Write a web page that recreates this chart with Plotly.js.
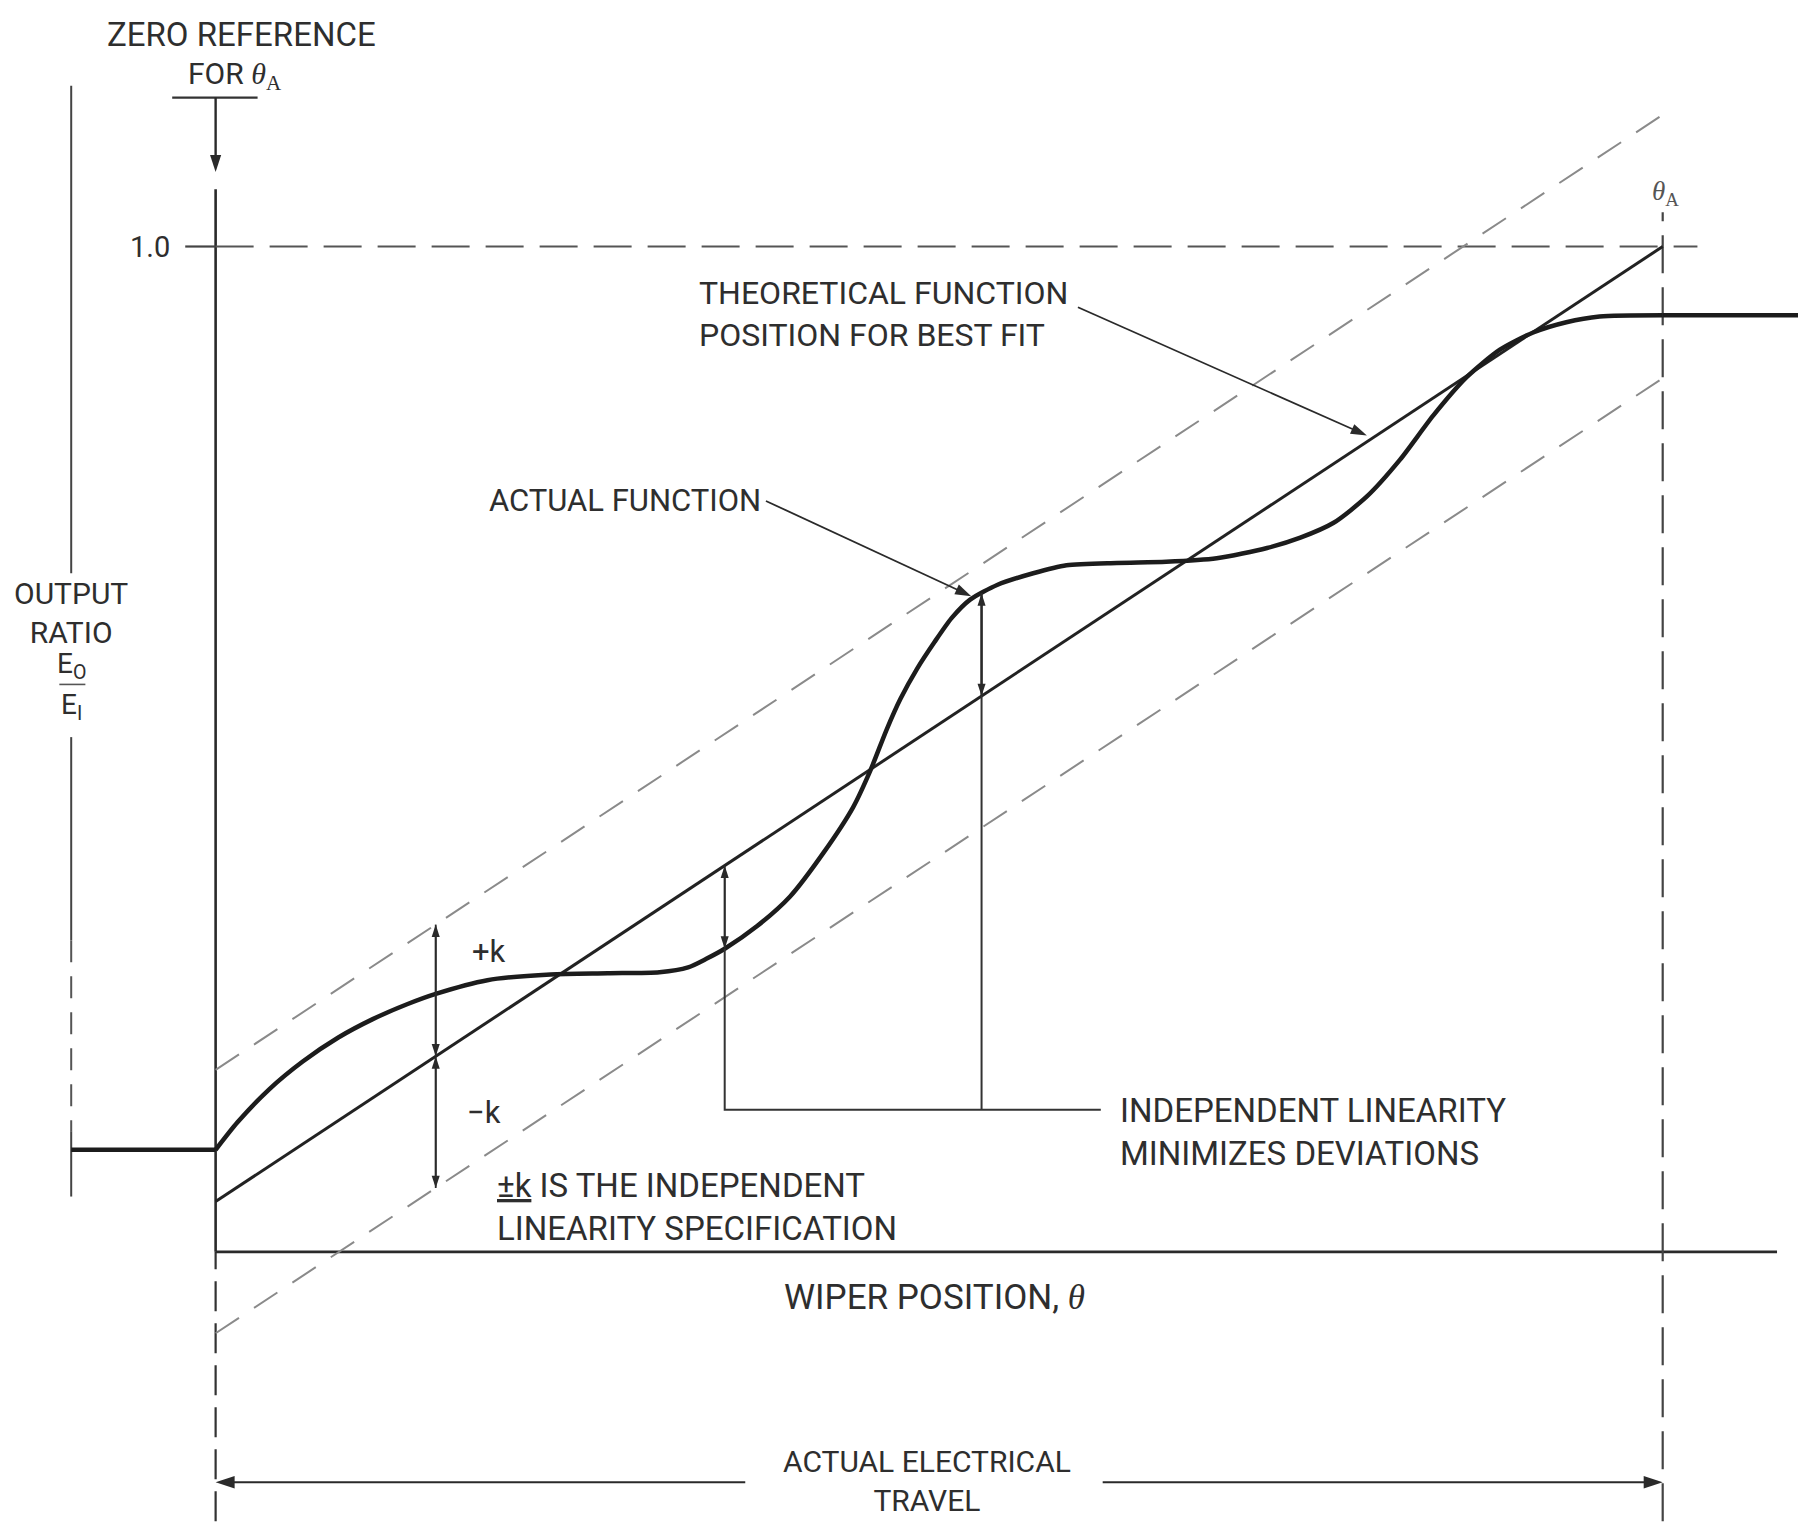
<!DOCTYPE html>
<html>
<head>
<meta charset="utf-8">
<script src="https://cdn.plot.ly/plotly-3.0.1.min.js"></script>
<style>html,body{margin:0;padding:0;background:#fff}</style>
</head>
<body>
<div id="chart" style="width:1798px;height:1527px"></div>
<script>
// ---- data (x: wiper position, 0 = zero reference, 1 = θA ; y: output ratio Eo/Ei) ----
const travelX = [0, 1];                 // zero reference and θA
const theoreticalY = [0.05, 1.0];       // best-fit theoretical function at travel ends
const kSpec = 0.131;                    // ± independent linearity band
const actualX = [-0.0998, 0, 0.0151, 0.0372, 0.0602, 0.0848, 0.1086, 0.1323, 0.1521, 0.1878, 0.2314, 0.2710, 0.3067, 0.3265, 0.3391, 0.3518, 0.3740, 0.3970, 0.4200, 0.4406, 0.4525, 0.4635, 0.4731, 0.4849, 0.4968, 0.5087, 0.5214, 0.5404, 0.5650, 0.5880, 0.6228, 0.6569, 0.6918, 0.7266, 0.7496, 0.7726, 0.7956, 0.8185, 0.8415, 0.8645, 0.8875, 0.9105, 0.9334, 0.9564, 1.0, 1.0935];
const actualY = [0.1015, 0.1015, 0.1288, 0.1619, 0.1893, 0.2132, 0.2315, 0.2463, 0.2566, 0.2702, 0.2759, 0.2771, 0.2782, 0.2830, 0.2915, 0.3015, 0.3238, 0.3535, 0.3968, 0.4424, 0.4789, 0.5188, 0.5496, 0.5804, 0.6066, 0.6306, 0.6488, 0.6636, 0.6750, 0.6830, 0.6853, 0.6864, 0.6899, 0.7001, 0.7104, 0.7252, 0.7514, 0.7880, 0.8320, 0.8700, 0.8974, 0.9145, 0.9247, 0.9304, 0.9316, 0.9316];
const fullScaleY = 1.0;                 // "1.0" reference level
const kMarkX = 0.1521;                  // where ±k is dimensioned
const deviationX = [0.3518, 0.5293];    // deviations shown by the bracket
const deviationActualY = [0.3015, 0.655];
const bracketY = 0.1414;
const bracketEndX = 0.6117;
const outputGuideX = -0.0998;

// ---- derived ----
const theo = x => theoreticalY[0] + (theoreticalY[1] - theoreticalY[0]) * x;
const upperY = theoreticalY.map(v => v + kSpec);
const lowerY = theoreticalY.map(v => v - kSpec);

const FONT = "Roboto, 'Noto Sans', sans-serif";
const SERIF = "'Liberation Serif', 'DejaVu Serif', serif";
const TXT = '#2e2e2e';

function seg(x, y, color, width, dash, shape) {
  return {type: 'scatter', mode: 'lines', x: x, y: y, hoverinfo: 'skip',
          line: {color: color, width: width, dash: dash || 'solid', shape: shape || 'linear', smoothing: 0.7}};
}
// a line that ends in an arrowhead at (x1, y1)
function arrowSeg(x0, y0, x1, y1, width, size) {
  return {type: 'scatter', mode: 'lines+markers', x: [x0, x1], y: [y0, y1], hoverinfo: 'skip',
          line: {color: '#2a2a2a', width: width || 1.8},
          marker: {symbol: 'arrow', size: size || 14, color: '#2a2a2a', angleref: 'previous', line: {width: 0}}};
}

const traces = [];
// axes / guides
traces.push(seg([travelX[0], travelX[0]], [0, 1.057], '#2a2a2a', 2.6));
traces.push(seg([travelX[0], travelX[0]], [-0.268, 0], '#333', 2.2, '30px,12px'));
traces.push(seg([travelX[0], 1.079], [0, 0], '#2a2a2a', 2.8));
traces.push(seg([travelX[1], travelX[1]], [-0.268, 1.034], '#444', 2.2, '38px,14px'));
traces.push(seg([-0.021, travelX[0]], [fullScaleY, fullScaleY], '#444', 2.2));
traces.push(seg([travelX[0], 1.024], [fullScaleY, fullScaleY], '#555', 2.2, '38px,16px'));
// left output-ratio guide
traces.push(seg([outputGuideX, outputGuideX], [1.16, 0.675], '#444', 2));
traces.push(seg([outputGuideX, outputGuideX], [0.512, 0.31], '#444', 2));
traces.push(seg([outputGuideX, outputGuideX], [0.31, 0.12], '#555', 2, '22px,14px'));
traces.push(seg([outputGuideX, outputGuideX], [0.12, 0.055], '#444', 2));
traces.push(seg([-0.108, -0.090], [0.5644, 0.5644], '#555', 1.6));
// zero reference bar
traces.push(seg([-0.030, 0.029], [1.148, 1.148], '#333', 2.2));
// ±k band
traces.push(seg(travelX, upperY, '#8a8a8a', 2, '28px,18px'));
traces.push(seg(travelX, lowerY, '#8a8a8a', 2, '28px,18px'));
// theoretical function
traces.push(seg(travelX, theoreticalY, '#222', 3));
// actual function
traces.push(seg(actualX.slice(0, 2), actualY.slice(0, 2), '#1c1c1c', 4.5));
traces.push(seg(actualX.slice(1, 45), actualY.slice(1, 45), '#1c1c1c', 4.5, 'solid', 'spline'));
traces.push(seg(actualX.slice(44), actualY.slice(44), '#1c1c1c', 4.5));
// deviation bracket
traces.push(seg([deviationX[0], deviationX[0], bracketEndX], [deviationActualY[0], bracketY, bracketY], '#333', 2));
traces.push(seg([deviationX[1], deviationX[1]], [bracketY, deviationActualY[1]], '#333', 2));

// arrows
const tk = theo(kMarkX);
traces.push(arrowSeg(travelX[0], 1.148, travelX[0], 1.074, 2.4, 18));           // zero reference
traces.push(arrowSeg(0.3803, 0.7469, 0.5222, 0.6522, 1.8, 17));                  // actual function leader
traces.push(arrowSeg(0.5959, 0.9396, 0.7956, 0.812, 1.8, 17));                   // theoretical leader
traces.push(arrowSeg(kMarkX, tk, kMarkX, tk + kSpec, 1.8, 13));                  // +k
traces.push(arrowSeg(kMarkX, tk + kSpec, kMarkX, tk, 1.8, 13));
traces.push(arrowSeg(kMarkX, tk, kMarkX, tk - kSpec, 1.8, 13));                  // -k
traces.push(arrowSeg(kMarkX, tk - kSpec, kMarkX, tk, 1.8, 13));
const t0 = theo(deviationX[0]), t1 = theo(deviationX[1]);
traces.push(arrowSeg(deviationX[0], deviationActualY[0], deviationX[0], t0, 1.8, 13));
traces.push(arrowSeg(deviationX[0], t0, deviationX[0], deviationActualY[0], 1.8, 13));
traces.push(arrowSeg(deviationX[1], t1, deviationX[1], deviationActualY[1], 1.8, 13));
traces.push(arrowSeg(deviationX[1], deviationActualY[1], deviationX[1], t1, 1.8, 13));
traces.push(arrowSeg(0.366, -0.2292, travelX[0], -0.2292, 2.2, 20));             // actual electrical travel
traces.push(arrowSeg(0.613, -0.2292, travelX[1], -0.2292, 2.2, 20));

// ---- text ----
const ann = [];
function label(text, x, y, anchor, size, family, color) {
  ann.push({text: text, x: x, y: y, xref: 'x', yref: 'y', showarrow: false,
    xanchor: anchor, yanchor: 'middle', align: anchor === 'center' ? 'center' : 'left',
    font: {family: family || FONT, size: size, color: color || TXT}});
}
const thA = "<span style=\"font-family:'Liberation Serif',serif\"><i>θ</i><sub>A</sub></span>";
label('ZERO REFERENCE', 0.0182, 1.2105, 'center', 33);
label('FOR ' + thA, 0.0135, 1.170, 'center', 30);
label('1.0', -0.0301, fullScaleY, 'right', 29);
label('<i>θ</i><sub>A</sub>', 1.0016, 1.0536, 'center', 27, SERIF, '#555');
label('THEORETICAL FUNCTION<br>POSITION FOR BEST FIT', 0.3328, 0.9328, 'left', 32);
label('ACTUAL FUNCTION', 0.1878, 0.7469, 'left', 31);
label('OUTPUT<br>RATIO', outputGuideX, 0.635, 'center', 30);
label('E<sub>O</sub>', outputGuideX, 0.583, 'center', 28);
label('E<sub>I</sub>', outputGuideX, 0.542, 'center', 28);
label('+k', 0.1759, 0.2987, 'left', 31);
label('−k', 0.172, 0.139, 'left', 31);
label("<span style='text-decoration:underline'>±k</span> IS THE INDEPENDENT<br>LINEARITY SPECIFICATION", 0.1933, 0.045, 'left', 33);
label('INDEPENDENT LINEARITY<br>MINIMIZES DEVIATIONS', 0.6236, 0.119, 'left', 33);
label("WIPER POSITION, <span style=\"font-family:'Liberation Serif',serif\"><i>θ</i></span>", 0.4968, -0.0456, 'center', 35);
label('ACTUAL ELECTRICAL<br>TRAVEL', 0.4913, -0.228, 'center', 30);

const layout = {
  width: 1798, height: 1527,
  margin: {l: 0, r: 0, t: 0, b: 0},
  paper_bgcolor: '#ffffff', plot_bgcolor: '#ffffff',
  showlegend: false,
  xaxis: {range: [-0.149, 1.0935], visible: false, fixedrange: true},
  yaxis: {range: [-0.2737, 1.2452], visible: false, fixedrange: true},
  annotations: ann
};
Plotly.newPlot('chart', traces, layout, {staticPlot: true});
</script>
</body>
</html>
